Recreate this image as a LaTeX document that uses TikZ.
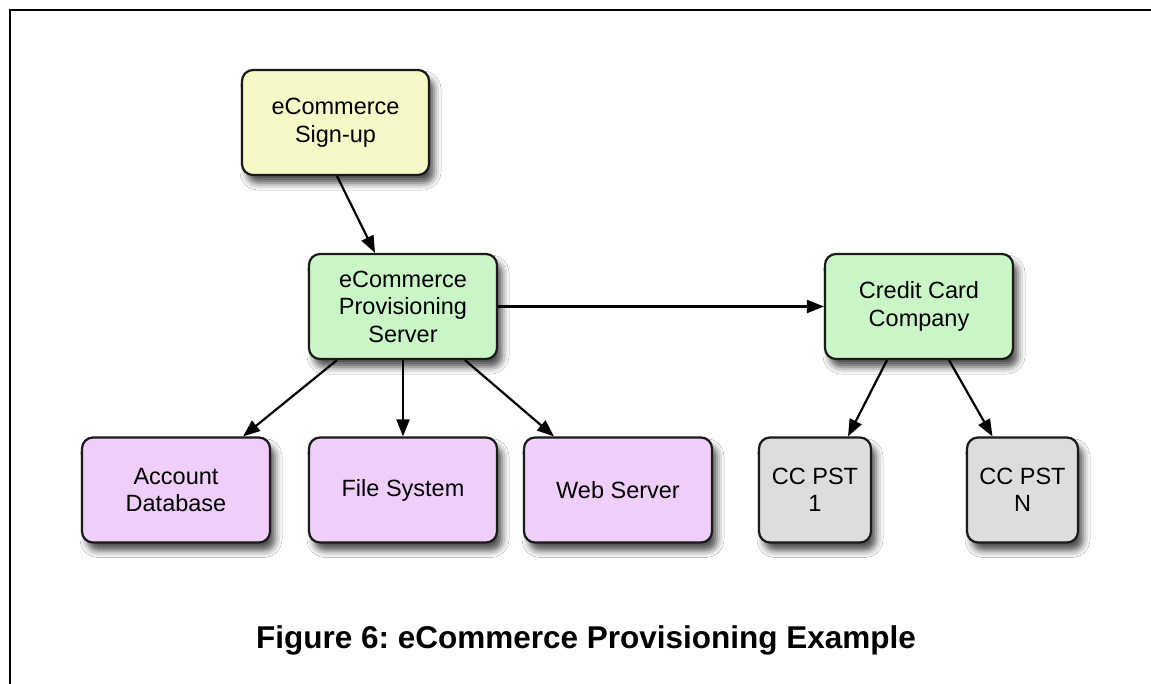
\documentclass[tikz,border=0pt]{standalone}
\usepackage{fontspec}
\setmainfont{Liberation Sans}
\usetikzlibrary{arrows.meta,shadows.blur}
\frenchspacing

\definecolor{boxline}{HTML}{1A1A1A}
\definecolor{signupfill}{HTML}{F6F8C8}
\definecolor{serverfill}{HTML}{C9F5C7}
\definecolor{storefill}{HTML}{F0CEFA}
\definecolor{pstfill}{HTML}{DCDEDC}

\begin{document}
\begin{tikzpicture}[x=1pt,y=-1pt,
  box/.style={draw=boxline, line width=2.2pt, rounded corners=11pt,
    minimum width=188pt, minimum height=105pt, align=center, inner sep=0pt,
    font=\fontsize{23.5}{27.5}\selectfont,
    blur shadow={shadow xshift=5pt, shadow yshift=-8pt,
      shadow blur radius=7pt, shadow opacity=70}},
  smallbox/.style={box, minimum width=112pt},
  conn/.style={draw=black, line width=2.2pt,
    -{Triangle[length=17pt,width=13pt]}}
]
% page and frame
\fill[white] (0,0) rectangle (1151,683);
\useasboundingbox (0,0) rectangle (1151,683);
\draw[line width=2.4pt] (10,700) -- (10,10) -- (1170,10);

% nodes
\node[box, fill=signupfill, minimum width=187pt] (signup) at (335.5,122.5) {eCommerce\\Sign-up};
\node[box, fill=serverfill] (server) at (403,306.5) {eCommerce\\Provisioning\\Server};
\node[box, fill=serverfill] (card) at (919,306.5) {Credit Card\\Company};
\node[box, fill=storefill] (accdb) at (176,490) {Account\\Database};
\node[box, fill=storefill] (fs) at (403,490) {File System};
\node[box, fill=storefill] (web) at (618,490) {Web Server};
\node[smallbox, fill=pstfill] (pst1) at (815,490) {CC PST\\1};
\node[smallbox, fill=pstfill, minimum width=111pt] (pstn) at (1022.5,490) {CC PST\\N};

% connectors
\draw[conn] ([xshift=1.5pt]signup.south) -- ([xshift=-28pt]server.north);
\draw[conn] (server.east) -- (card.west);
\draw[conn] ([xshift=-66pt]server.south) -- ([xshift=67pt]accdb.north);
\draw[conn] (server.south) -- (fs.north);
\draw[conn] ([xshift=62pt]server.south) -- ([xshift=-64pt]web.north);
\draw[conn] ([xshift=-32pt]card.south) -- ([xshift=33pt]pst1.north);
\draw[conn] ([xshift=30pt]card.south) -- ([xshift=-30pt]pstn.north);

% caption
\node[font=\bfseries\fontsize{31.5}{36}\selectfont, anchor=base] (caption) at (586,648)
  {Figure 6: eCommerce Provisioning Example};
\end{tikzpicture}
\end{document}
